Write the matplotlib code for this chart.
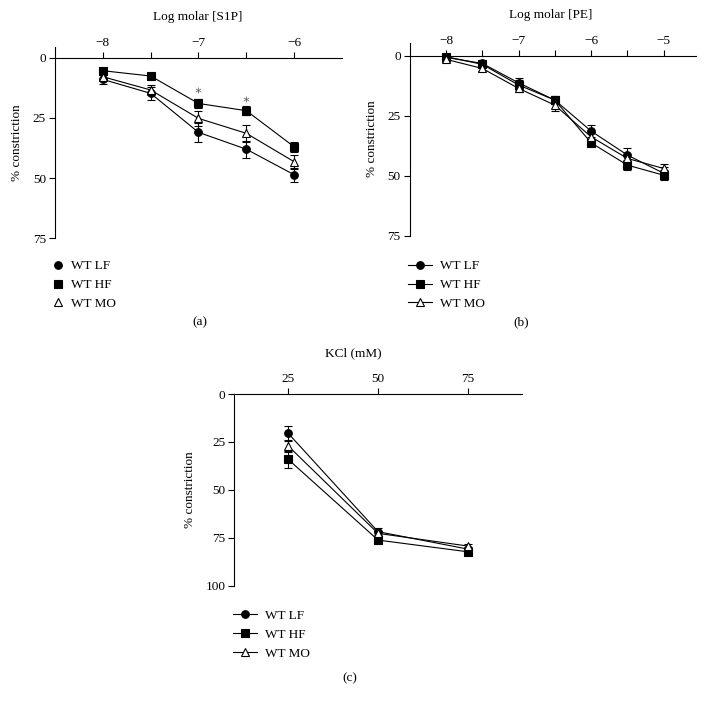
import numpy as np
import matplotlib
matplotlib.use('Agg')
import matplotlib.pyplot as plt
from matplotlib.lines import Line2D

plt.rcParams['font.family'] = ['Liberation Serif', 'DejaVu Serif']
plt.rcParams['font.size'] = 9.5

# panel (a) S1P
s1p_x = [-8, -7.5, -7, -6.5, -6]
s1p_lf = [9, 14.8, 31, 38, 48.6]
s1p_lf_err = [2, 2.8, 3.8, 3.5, 3]
s1p_hf = [5.4, 7.6, 19, 22, 37]
s1p_hf_err = [1.2, 1.2, 2, 1.8, 2]
s1p_mo = [7.9, 13.4, 25.2, 31.4, 43.2]
s1p_mo_err = [1.5, 2, 3, 3.5, 3]
s1p_star_x = [-7, -6.5]
s1p_star_y = [13.4, 17.2]

# panel (b) PE
pe_x = [-8, -7.5, -7, -6.5, -6, -5.5, -5]
pe_lf = [0.7, 3.2, 11.3, 18.5, 31.4, 41.4, 49]
pe_lf_err = [1, 1.2, 2.2, 1.8, 2.5, 3, 2.5]
pe_hf = [0.4, 3.6, 12.2, 18.5, 36.3, 45.6, 49.8]
pe_hf_err = [1, 1.2, 2, 1.8, 1.5, 2, 2]
pe_mo = [1.5, 5.3, 13.6, 20.6, 33.8, 42.8, 47]
pe_mo_err = [1, 1.2, 1.5, 2.5, 2, 2, 2]

# panel (c) KCl
kcl_x = [25, 50, 75]
kcl_lf = [20.5, 71.8, 80.9]
kcl_lf_err = [4, 2, 1]
kcl_hf = [34.1, 76.2, 82.3]
kcl_hf_err = [4.5, 1.5, 1]
kcl_mo = [27.1, 72.7, 79.3]
kcl_mo_err = [3, 1.5, 1]

labels = ['WT LF', 'WT HF', 'WT MO']
markers = ['o', 's', '^']
faces = ['black', 'black', 'white']

fig = plt.figure(figsize=(7.06, 7.05), dpi=100)


def setup(ax, xlim, ylim, xticks, xlabels, yticks):
    ax.set_xlim(xlim)
    ax.set_ylim(ylim)
    for s in ['right', 'bottom']:
        ax.spines[s].set_visible(False)
    ax.spines['top'].set_position(('data', 0))
    ax.xaxis.set_ticks_position('top')
    ax.set_xticks(xticks)
    ax.set_xticklabels(xlabels)
    ax.set_yticks(yticks)
    ax.tick_params(direction='out', length=4, width=0.8, colors='black', pad=2.5)
    for s in ['left', 'top']:
        ax.spines[s].set_linewidth(0.8)
    ax.set_ylabel('% constriction', fontsize=9.5, labelpad=7)
    ax.patch.set_visible(False)


def draw(ax, x, series, errs):
    for i in range(3):
        ax.errorbar(x, series[i], yerr=errs[i], color='black', lw=0.8,
                    marker=markers[i], mfc=faces[i], mec='black', ms=5.5,
                    mew=0.8, capsize=3, elinewidth=0.8, capthick=0.8, zorder=3)


def legend(ax, x0, y0, with_line):
    hs = []
    for i in range(3):
        hs.append(Line2D([], [], color='black', lw=0.8 if with_line else 0,
                         marker=markers[i], mfc=faces[i], mec='black', ms=5.5, mew=0.8))
    ax.legend(hs, labels, loc='upper left', bbox_to_anchor=(x0, y0),
              bbox_transform=fig.transFigure, frameon=False, fontsize=9.5,
              handlelength=1.8 if with_line else 0.8, handletextpad=0.6,
              labelspacing=0.5, borderpad=0, borderaxespad=0)


# (a)
ax1 = fig.add_axes([0.0779, 0.6620, 0.4065, 0.2715])
draw(ax1, s1p_x, [s1p_lf, s1p_hf, s1p_mo], [s1p_lf_err, s1p_hf_err, s1p_mo_err])
ax1.scatter(s1p_star_x, s1p_star_y, marker='$*$', s=18, color='#555555', lw=0, zorder=4)
setup(ax1, (-8.5, -5.5), (75, -4.5), [-8, -7.5, -7, -6.5, -6],
      ['\u22128', '', '\u22127', '', '\u22126'], [0, 25, 50, 75])
fig.text(0.2805, 0.976, 'Log molar [S1P]', ha='center', va='center', fontsize=9.5)
legend(ax1, 0.074, 0.631, False)
fig.text(0.283, 0.543, '(a)', ha='center', va='center', fontsize=9.5)

# (b)
ax2 = fig.add_axes([0.5803, 0.6657, 0.4060, 0.2740])
draw(ax2, pe_x, [pe_lf, pe_hf, pe_mo], [pe_lf_err, pe_hf_err, pe_mo_err])
setup(ax2, (-8.5, -4.55), (75, -5.5), [-8, -7.5, -7, -6.5, -6, -5.5, -5],
      ['\u22128', '', '\u22127', '', '\u22126', '', '\u22125'], [0, 25, 50, 75])
fig.text(0.780, 0.979, 'Log molar [PE]', ha='center', va='center', fontsize=9.5)
legend(ax2, 0.578, 0.631, True)
fig.text(0.738, 0.543, '(b)', ha='center', va='center', fontsize=9.5)

# (c)
ax3 = fig.add_axes([0.3319, 0.1692, 0.4071, 0.2719])
draw(ax3, kcl_x, [kcl_lf, kcl_hf, kcl_mo], [kcl_lf_err, kcl_hf_err, kcl_mo_err])
setup(ax3, (10, 90), (100, 0), [25, 50, 75], ['25', '50', '75'],
      [0, 25, 50, 75, 100])
fig.text(0.5, 0.499, 'KCl (mM)', ha='center', va='center', fontsize=9.5)
legend(ax3, 0.330, 0.135, True)
fig.text(0.496, 0.038, '(c)', ha='center', va='center', fontsize=9.5)

fig.savefig('out.png', dpi=100)
